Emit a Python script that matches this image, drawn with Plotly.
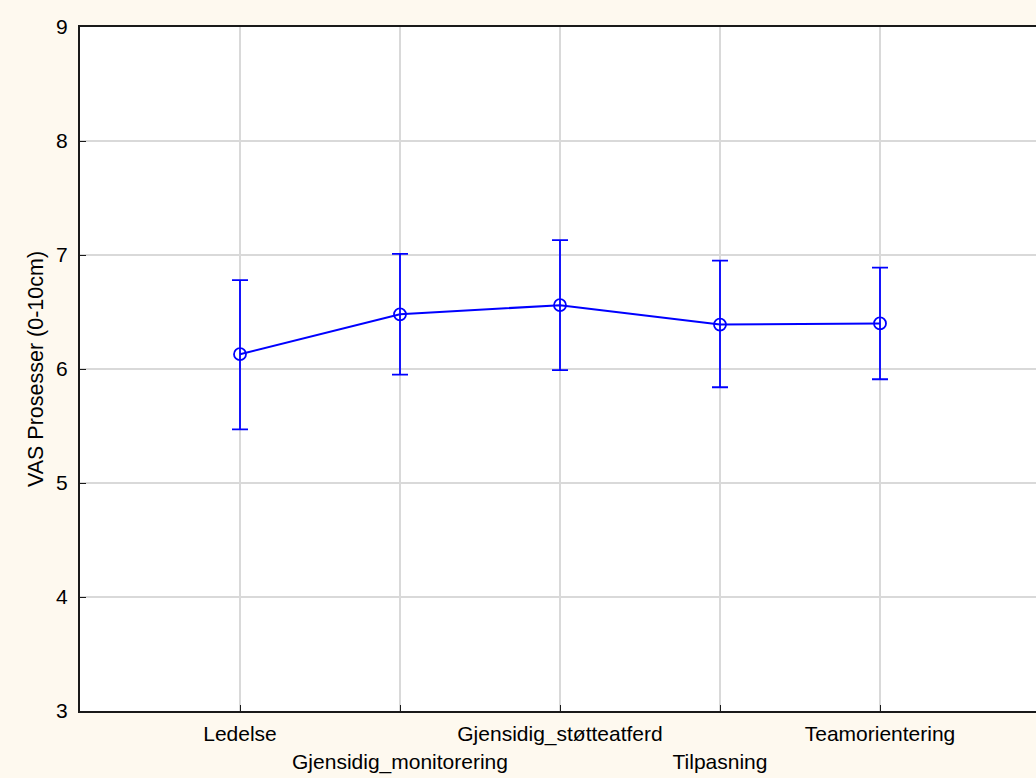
import plotly.graph_objects as go

# Team process scores (VAS, 0-10 cm): means with upper/lower interval limits
categories = ["Ledelse", "Gjensidig_monitorering", "Gjensidig_støtteatferd",
              "Tilpasning", "Teamorientering"]
means = [6.13, 6.48, 6.56, 6.39, 6.40]
upper = [6.78, 7.01, 7.13, 6.95, 6.89]
lower = [5.47, 5.95, 5.99, 5.84, 5.91]

err_plus = [u - m for u, m in zip(upper, means)]
err_minus = [m - l for m, l in zip(means, lower)]

# staggered category labels: every second one on a lower row
tick_text = [c if i % 2 == 0 else "<br>" + c for i, c in enumerate(categories)]
xpos = list(range(len(categories)))

blue = "#0000FF"
fig = go.Figure()
fig.add_trace(go.Scatter(
    x=xpos, y=means,
    mode="lines+markers",
    line=dict(color=blue, width=2),
    marker=dict(symbol="circle-open", size=12, color=blue, line=dict(width=1.8, color=blue)),
    error_y=dict(type="data", symmetric=False, array=err_plus, arrayminus=err_minus,
                 color=blue, thickness=1.8, width=8),
    showlegend=False,
))

font_family = "Liberation Sans, Arial, sans-serif"
fig.update_layout(
    width=1036, height=778,
    margin=dict(l=80, r=0, t=27, b=67),
    paper_bgcolor="#FEF9EF",
    plot_bgcolor="#FFFFFF",
    font=dict(family=font_family, size=21, color="#000000"),
    xaxis=dict(
        range=[-1, 4.975],
        tickmode="array", tickvals=xpos, ticktext=tick_text,
        tickangle=0, automargin=False,
        showgrid=True, gridcolor="#D9D9D9", gridwidth=1.5,
        showline=True, linecolor="#1A1A1A", linewidth=2, mirror=True,
        ticks="inside", ticklen=6, tickcolor="#1A1A1A", tickwidth=1,
        tickfont=dict(size=21),
        ticklabelstandoff=3,
        zeroline=False, fixedrange=True,
    ),
    yaxis=dict(
        range=[3, 9], dtick=1, automargin=False,
        showgrid=True, gridcolor="#D9D9D9", gridwidth=1.5,
        showline=True, linecolor="#1A1A1A", linewidth=2, mirror=False,
        ticks="inside", ticklen=6, tickcolor="#1A1A1A", tickwidth=1,
        tickfont=dict(size=21),
        ticklabelstandoff=6,
        title=dict(text="VAS Prosesser (0-10cm)", font=dict(size=21.5), standoff=7),
        zeroline=False, fixedrange=True,
    ),
)

fig.write_html("out.html")
